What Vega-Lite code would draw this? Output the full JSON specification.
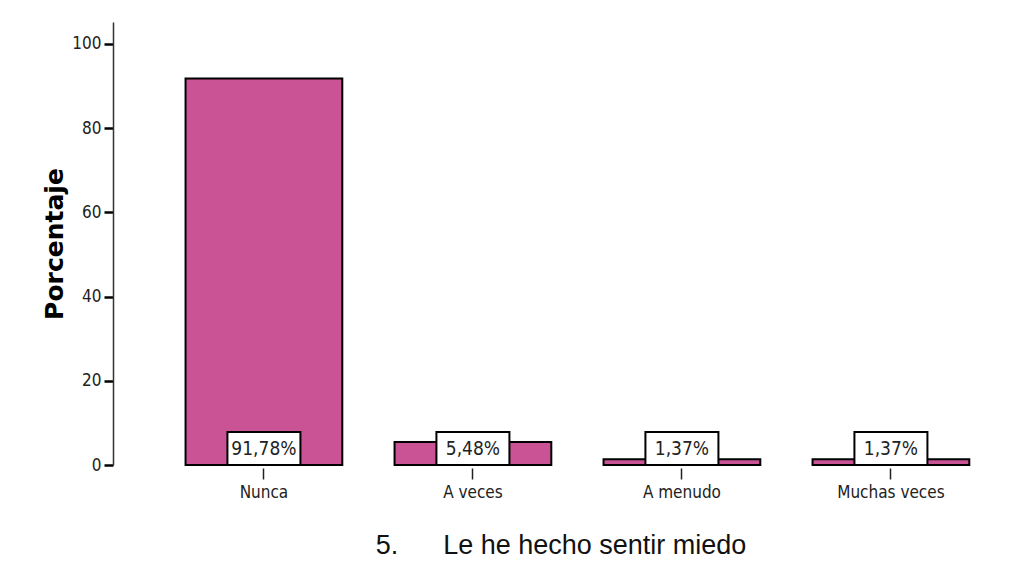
{
  "$schema": "https://vega.github.io/schema/vega-lite/v6.json",
  "autosize": {"type": "none"},
  "width": 914,
  "height": 443,
  "padding": {"left": 113, "top": 22, "right": 0, "bottom": 109},
  "background": "#ffffff",
  "data": {
    "values": [
      {"categoria": "Nunca", "porcentaje": 91.78, "etiqueta": "91,78%"},
      {"categoria": "A veces", "porcentaje": 5.48, "etiqueta": "5,48%"},
      {"categoria": "A menudo", "porcentaje": 1.37, "etiqueta": "1,37%"},
      {"categoria": "Muchas veces", "porcentaje": 1.37, "etiqueta": "1,37%"}
    ]
  },
  "title": {
    "text": "5.\u00a0\u00a0\u00a0\u00a0\u00a0\u00a0Le he hecho sentir miedo",
    "orient": "bottom",
    "anchor": "middle",
    "font": "Liberation Sans",
    "fontSize": 27,
    "fontWeight": "normal",
    "color": "#111111",
    "offset": 33,
    "dx": -9
  },
  "encoding": {
    "x": {
      "field": "categoria",
      "type": "nominal",
      "sort": null,
      "scale": {"paddingInner": 0.25, "paddingOuter": 0.3116, "align": 0.557},
      "axis": {
        "title": null,
        "domain": false,
        "offset": 3,
        "tickSize": 11,
        "tickWidth": 1.5,
        "tickColor": "#222222",
        "labelAngle": 0,
        "labelFont": "DejaVu Sans Condensed",
        "labelFontSize": 17,
        "labelColor": "#222222",
        "labelPadding": 5
      }
    }
  },
  "layer": [
    {
      "mark": {"type": "bar", "fill": "#c95394", "stroke": "#000000", "strokeWidth": 2},
      "encoding": {
        "y": {
          "field": "porcentaje",
          "type": "quantitative",
          "scale": {"domain": [0, 105.2], "nice": false},
          "axis": {
            "title": "Porcentaje",
            "values": [0, 20, 40, 60, 80, 100],
            "grid": false,
            "domainColor": "#333333",
            "domainWidth": 1.5,
            "tickColor": "#000000",
            "tickWidth": 2.5,
            "tickSize": 9,
            "labelFont": "DejaVu Sans Condensed",
            "labelFontSize": 17,
            "labelColor": "#222222",
            "labelPadding": 3,
            "titleFont": "DejaVu Sans",
            "titleFontWeight": "bold",
            "titleFontSize": 25,
            "titleColor": "#000000",
            "titlePadding": 4
          }
        }
      }
    },
    {
      "mark": {"type": "bar", "width": 73, "fill": "#ffffff", "stroke": "#000000", "strokeWidth": 2},
      "encoding": {
        "y": {"datum": 0, "type": "quantitative"},
        "y2": {"datum": 7.84}
      }
    },
    {
      "mark": {"type": "rule", "color": "#333333", "strokeWidth": 1.5},
      "encoding": {"y": {"datum": 0, "type": "quantitative"}}
    },
    {
      "mark": {
        "type": "text",
        "font": "DejaVu Sans Condensed",
        "fontSize": 19,
        "color": "#222222",
        "baseline": "middle"
      },
      "encoding": {
        "y": {"datum": 3.9, "type": "quantitative"},
        "text": {"field": "etiqueta"}
      }
    }
  ],
  "config": {"view": {"stroke": null}}
}
